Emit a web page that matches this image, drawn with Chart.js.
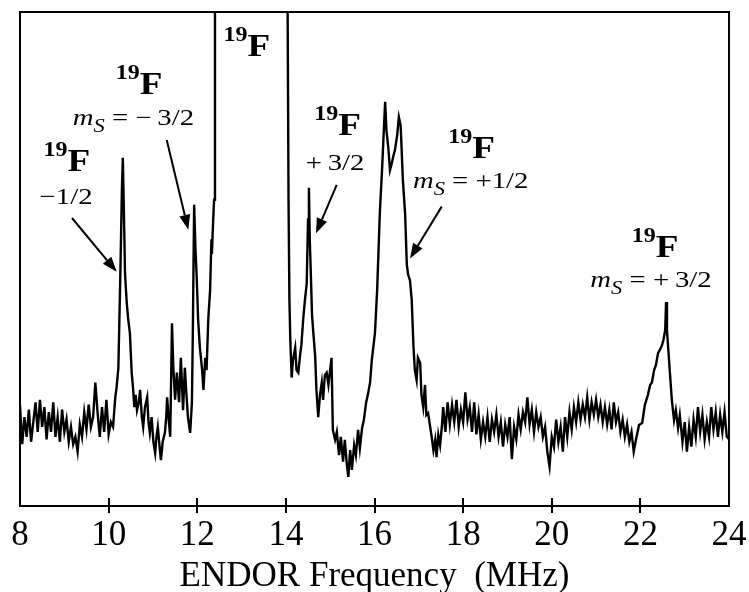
<!DOCTYPE html>
<html><head><meta charset="utf-8">
<script src="https://cdn.jsdelivr.net/npm/chart.js@4/dist/chart.umd.min.js"></script>
<style>html,body{margin:0;padding:0;background:#fff;}canvas{display:block;}</style>
</head><body>
<canvas id="c" width="749" height="592"></canvas>
<script>
// ---- axis ----
const xMin = 8, xMax = 24, xStep = 2;
const xTitle = 'ENDOR Frequency  (MHz)';

// ---- spectrum (frequency MHz, signal a.u.; values > 100 run off the top) ----
const baselineLeft = [[8.00,20.5],[8.05,12.5],[8.10,18],[8.15,14],[8.20,19.5],[8.25,13],[8.30,17],[8.35,21],[8.40,15],[8.45,21.5],[8.50,16],[8.55,20],[8.60,13.5],[8.65,19],[8.70,15],[8.75,21],[8.80,14],[8.85,18],[8.90,13],[8.95,19.5],[9.00,15],[9.05,17.5],[9.10,13],[9.15,16],[9.20,12.5],[9.25,14],[9.30,11],[9.35,16.5],[9.40,14],[9.45,19],[9.50,15.5],[9.55,20.5],[9.60,16],[9.65,18],[9.70,25],[9.75,19],[9.80,14],[9.85,20],[9.90,15],[9.95,21.5],[10.00,14.5],[10.05,17],[10.10,16],[10.15,22]];
const peaksMinus = [[10.18,24],[10.22,28],[10.26,45],[10.30,64],[10.32,70.5],[10.34,62],[10.37,47],[10.41,41],[10.44,38],[10.48,35],[10.52,27],[10.55,24],[10.58,20],[10.61,22.5],[10.64,19.4],[10.68,21],[10.71,23.5],[10.75,18],[10.78,16],[10.82,20],[10.87,22],[10.90,17],[10.93,14.8],[10.97,18],[11.01,13],[11.05,10.7],[11.08,14],[11.11,16],[11.15,12],[11.18,9.3],[11.22,13],[11.27,14.8],[11.30,18],[11.32,22],[11.36,17],[11.39,14],[11.43,37],[11.46,28],[11.50,21.5],[11.54,27],[11.59,21],[11.63,30],[11.68,19.4],[11.72,28],[11.76,22],[11.79,18],[11.84,14.8],[11.88,21],[11.90,35],[11.93,61],[11.96,52],[11.99,45.7],[12.02,37.7],[12.06,32],[12.11,27.5],[12.14,23.5],[12.18,30],[12.21,27.5],[12.25,38],[12.29,43.7],[12.32,54],[12.33,51],[12.36,58],[12.38,62],[12.40,100],[12.42,140]];
const centralLine = [[14.02,140],[14.04,100],[14.06,62],[14.08,41.7],[14.10,33.6],[14.13,26],[14.16,29.5],[14.21,32],[14.24,27.5],[14.28,27],[14.32,30.5],[14.35,32.6],[14.39,37.7],[14.43,41.7],[14.47,45],[14.50,58],[14.52,64.4],[14.54,53.8],[14.57,45],[14.59,38.7],[14.62,35],[14.66,30.5],[14.69,23.5],[14.73,18],[14.77,22.5],[14.81,25],[14.84,21.5],[14.88,26.5],[14.92,27],[14.96,24.5],[15.03,30]];
const broadPeak = [[15.06,15.4],[15.11,13.4],[15.15,15],[15.20,10.3],[15.24,14],[15.29,9],[15.33,13.4],[15.38,8],[15.41,5.9],[15.45,11.3],[15.49,7.3],[15.54,12.3],[15.58,10.3],[15.63,15.4],[15.67,11.7],[15.72,15.8],[15.76,17.4],[15.81,20.9],[15.85,22.5],[15.90,25],[15.94,29.6],[16.01,35],[16.06,43.7],[16.12,59.3],[16.17,68],[16.20,74],[16.24,81.8],[16.27,76],[16.31,72.7],[16.35,68],[16.38,69],[16.43,71],[16.46,72],[16.51,75],[16.55,78.7],[16.59,77],[16.61,72.7],[16.64,66],[16.69,59.3],[16.73,48.8],[16.76,46.8],[16.80,45.7],[16.84,41.7],[16.88,32.2],[16.91,27.5],[16.95,25.5],[16.98,30],[17.03,29],[17.06,22.5],[17.10,20],[17.14,24.5],[17.17,18.4],[17.21,18.8],[17.25,16.4],[17.29,14],[17.33,11.3],[17.37,13.4],[17.40,9.9],[17.44,14.4],[17.48,12.3],[17.52,16]];
const baselineRight = [[17.55,20],[17.60,15],[17.65,21],[17.70,16.5],[17.75,20.5],[17.80,17],[17.85,21.5],[17.90,16],[17.95,19.5],[18.00,17],[18.05,23],[18.10,17.5],[18.15,20],[18.20,15],[18.25,21],[18.30,14.5],[18.35,18.5],[18.40,13.5],[18.45,17],[18.50,14],[18.55,18],[18.60,13],[18.65,17.5],[18.70,15],[18.75,18.5],[18.80,14],[18.85,17],[18.90,12],[18.95,16.5],[19.00,14],[19.05,18],[19.10,9.5],[19.15,16],[19.20,13.5],[19.25,18.5],[19.30,15.5],[19.35,19],[19.40,17],[19.45,22],[19.50,16.5],[19.55,19.5],[19.60,15],[19.65,19],[19.70,16],[19.75,18],[19.80,14],[19.85,16],[19.90,11],[19.95,8],[20.00,14],[20.05,12],[20.10,17.5],[20.15,13],[20.20,16],[20.25,11],[20.30,18],[20.35,14],[20.40,19],[20.45,15.5],[20.50,20],[20.55,17],[20.60,21],[20.65,17.5],[20.70,20.5],[20.75,18],[20.80,22],[20.85,17.5],[20.90,21],[20.95,18.5],[21.00,21.5],[21.05,18],[21.10,20.5],[21.15,17],[21.20,20],[21.25,16.5],[21.30,19.5],[21.35,15.5],[21.40,21],[21.45,17],[21.50,19],[21.55,15],[21.60,17.5],[21.65,14],[21.70,16.5],[21.75,13],[21.80,15],[21.85,11]];
const peakPlus32 = [[21.90,13.4],[21.97,16.4],[22.04,16.8],[22.10,20.4],[22.17,22.5],[22.22,24.5],[22.26,25],[22.31,27.5],[22.35,28.5],[22.40,31],[22.44,31.6],[22.49,32.6],[22.52,33.6],[22.56,35.6],[22.58,41.3],[22.60,35.6],[22.62,33],[22.67,26.5],[22.71,21.5],[22.76,17.4],[22.80,19.4],[22.85,15.8],[22.89,18.4],[22.95,13],[23.00,17],[23.05,11],[23.10,16],[23.15,12],[23.20,17.5],[23.25,14],[23.30,20],[23.35,15],[23.40,18.5],[23.45,13.5],[23.50,17],[23.55,14],[23.60,20],[23.65,15.5],[23.70,19],[23.75,14],[23.80,18.5],[23.85,15],[23.90,19],[23.95,14],[24.00,13.5]];

// ---- annotations (anchored in data units) ----
const isotopeLabels = [[9.06,67.8],[10.69,83.5],[13.12,91.0],[15.17,75.1],[18.19,70.4],[22.33,50.5]];
const spinLabels = [
  {x:9.04, y:61.1, ms:false, text:'\u22121/2'},
  {x:10.56, y:77.1, ms:true, text:' = \u2212\u20093/2'},
  {x:15.11, y:68.0, ms:false, text:'+\u20093/2'},
  {x:18.17, y:64.3, ms:true, text:' = +1/2'},
  {x:22.24, y:44.4, ms:true, text:' = +\u20093/2'}
];
const arrows = [[9.173,58.3,10.182,47.4],[11.311,74.1,11.798,55.9],[15.147,65.0,14.680,55.2],[17.516,60.6,16.801,50.1]];

const spectrum = [...baselineLeft, ...peaksMinus, ...centralLine, ...broadPeak, ...baselineRight, ...peakPlus32]
  .map(([x, y]) => ({x, y}));

const SERIF = '"Liberation Serif", "Times New Roman", serif';

function drawRuns(ctx, runs, cx, by, sx) {
  let total = 0;
  runs.forEach(r => { ctx.font = r[1]; total += ctx.measureText(r[0]).width; });
  ctx.save();
  ctx.translate(cx, by);
  ctx.scale(sx, 1);
  ctx.textBaseline = 'alphabetic';
  ctx.textAlign = 'left';
  let x = -total / 2;
  runs.forEach(r => { ctx.font = r[1]; ctx.fillText(r[0], x, r[2]); x += ctx.measureText(r[0]).width; });
  ctx.restore();
}

const overlay = {
  id: 'overlay',
  afterDraw(chart) {
    const {ctx, chartArea: a, scales: {x, y}} = chart;
    ctx.save();
    ctx.strokeStyle = '#000';
    ctx.fillStyle = '#000';
    ctx.lineWidth = 2;
    ctx.strokeRect(a.left, a.top, a.right - a.left, a.bottom - a.top);
    x.ticks.forEach(t => {
      if (t.value === xMin || t.value === xMax) return;
      const px = Math.round(x.getPixelForValue(t.value));
      ctx.beginPath();
      ctx.moveTo(px, a.bottom - 8);
      ctx.lineTo(px, a.bottom + 7);
      ctx.stroke();
    });
    isotopeLabels.forEach(([fx, fy]) => {
      drawRuns(ctx, [['19', 'bold 20px ' + SERIF, -15], ['F', 'bold 31px ' + SERIF, 0]],
        x.getPixelForValue(fx), y.getPixelForValue(fy), 1.2);
    });
    spinLabels.forEach(s => {
      const runs = s.ms
        ? [['m', 'italic 23px ' + SERIF, 0], ['S', 'italic 18px ' + SERIF, 7], [s.text, '23px ' + SERIF, 0]]
        : [[s.text, '23px ' + SERIF, 0]];
      drawRuns(ctx, runs, x.getPixelForValue(s.x), y.getPixelForValue(s.y), 1.25);
    });
    arrows.forEach(([x0, y0, x1, y1]) => {
      const p0 = [x.getPixelForValue(x0), y.getPixelForValue(y0)];
      const p1 = [x.getPixelForValue(x1), y.getPixelForValue(y1)];
      const dx = p1[0] - p0[0], dy = p1[1] - p0[1];
      const L = Math.hypot(dx, dy), ux = dx / L, uy = dy / L;
      const hl = 15, hw = 5.5;
      const bx = p1[0] - ux * hl, by = p1[1] - uy * hl;
      ctx.beginPath();
      ctx.moveTo(p0[0], p0[1]);
      ctx.lineTo(bx, by);
      ctx.stroke();
      ctx.beginPath();
      ctx.moveTo(p1[0], p1[1]);
      ctx.lineTo(bx - uy * hw, by + ux * hw);
      ctx.lineTo(bx + uy * hw, by - ux * hw);
      ctx.closePath();
      ctx.fill();
    });
    ctx.restore();
  }
};

new Chart(document.getElementById('c'), {
  type: 'line',
  data: {
    datasets: [{
      data: spectrum,
      borderColor: '#000',
      borderWidth: 2.4,
      pointRadius: 0,
      tension: 0,
      clip: 0
    }]
  },
  options: {
    responsive: false,
    animation: false,
    events: [],
    layout: {padding: {left: 20, right: 20, top: 12, bottom: 0}},
    plugins: {legend: {display: false}, tooltip: {enabled: false}},
    scales: {
      x: {
        type: 'linear', min: xMin, max: xMax,
        grid: {display: false, drawTicks: false},
        border: {display: false},
        ticks: {stepSize: xStep, color: '#000', padding: 12, font: {family: SERIF, size: 35, lineHeight: 1.0}},
        title: {display: true, text: xTitle, color: '#000', padding: {top: 0, bottom: 0}, font: {family: SERIF, size: 35, lineHeight: 0.87}},
        afterFit(scale) { scale.height = 86; scale.paddingLeft = 0; scale.paddingRight = 0; }
      },
      y: {display: false, min: 0, max: 100}
    }
  },
  plugins: [overlay]
});
</script>
</body></html>
